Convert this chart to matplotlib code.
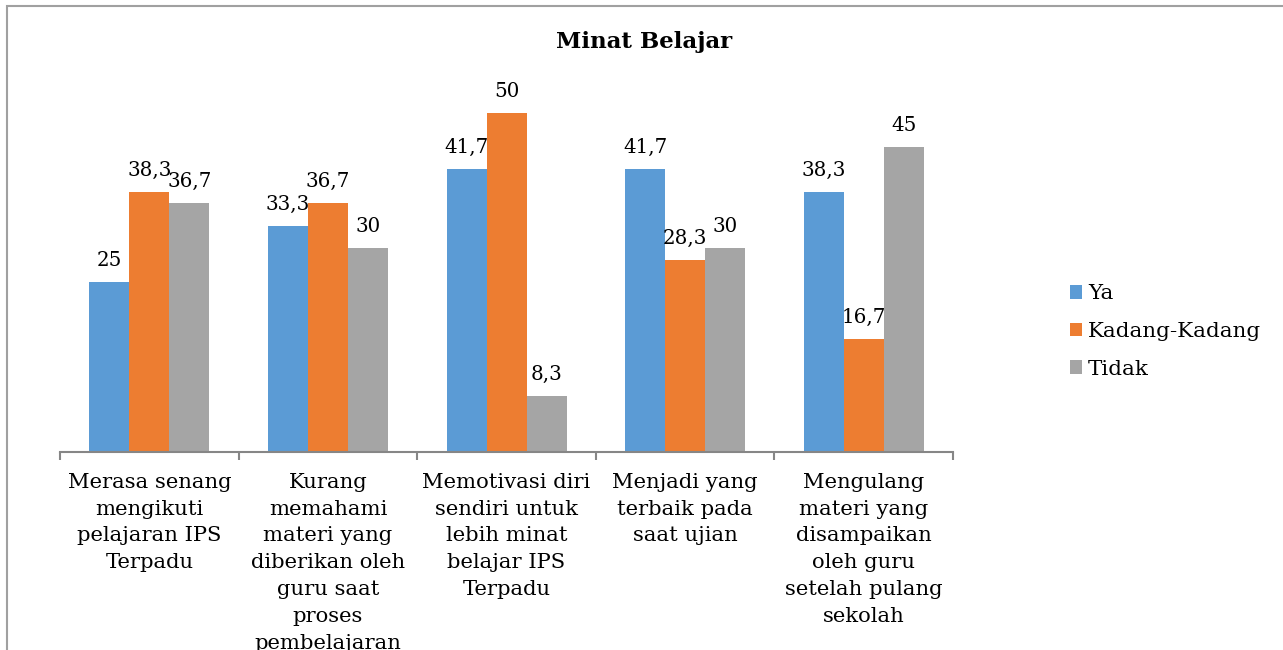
import numpy as np
import matplotlib.pyplot as plt
from matplotlib.patches import Rectangle

categories = [
    "Merasa senang\nmengikuti\npelajaran IPS\nTerpadu",
    "Kurang\nmemahami\nmateri yang\ndiberikan oleh\nguru saat\nproses\npembelajaran",
    "Memotivasi diri\nsendiri untuk\nlebih minat\nbelajar IPS\nTerpadu",
    "Menjadi yang\nterbaik pada\nsaat ujian",
    "Mengulang\nmateri yang\ndisampaikan\noleh guru\nsetelah pulang\nsekolah",
]
series_names = ["Ya", "Kadang-Kadang", "Tidak"]
ya = [25, 33.3, 41.7, 41.7, 38.3]
kadang = [38.3, 36.7, 50, 28.3, 16.7]
tidak = [36.7, 30, 8.3, 30, 45]
colors = ["#5B9BD5", "#ED7D31", "#A5A5A5"]

plt.rcParams['font.family'] = ['DejaVu Serif']

fig = plt.figure(figsize=(12.83, 6.5), dpi=100)
ax = fig.add_axes([0.0468, 0.3046, 0.696, 0.6262])

x = np.arange(len(categories))
w = 0.224
for i, (vals, name) in enumerate(zip([ya, kadang, tidak], series_names)):
    pos = x + (i - 1) * w
    ax.bar(pos, vals, width=w, color=colors[i], label=name)
    for p, v in zip(pos, vals):
        txt = ("%g" % v).replace(".", ",")
        ax.text(p, v + 1.8, txt, ha="center", va="bottom", fontsize=14.3)

ax.set_xlim(-0.5, len(categories) - 0.5)
ax.set_ylim(0, 60)
ax.set_yticks([])
for s in ["left", "right", "top"]:
    ax.spines[s].set_visible(False)
ax.spines["bottom"].set_color("#868686")
ax.spines["bottom"].set_linewidth(1.5)

ax.set_xticks(x)
ax.set_xticklabels(categories, fontsize=15.2, linespacing=1.52)
ax.tick_params(axis="x", which="major", length=0, pad=15)
ax.set_xticks(np.arange(-0.5, len(categories)), minor=True)
ax.tick_params(axis="x", which="minor", length=6, width=1.5, color="#868686")

fig.text(0.502, 0.935, "Minat Belajar", ha="center", va="center",
         fontsize=16.5, fontweight="bold")

ax.legend(loc="center left", bbox_to_anchor=(1.109, 0.296), frameon=False,
          fontsize=15.4, handlelength=0.6, handleheight=0.6,
          handletextpad=0.25, labelspacing=0.87)

fig.patches.append(Rectangle((7 / 1283, -0.1), 1.2, 1 - 6 / 650 + 0.1,
                             transform=fig.transFigure, fill=False,
                             edgecolor="#a0a0a0", linewidth=1.5))

fig.savefig("out.png", dpi=100)
